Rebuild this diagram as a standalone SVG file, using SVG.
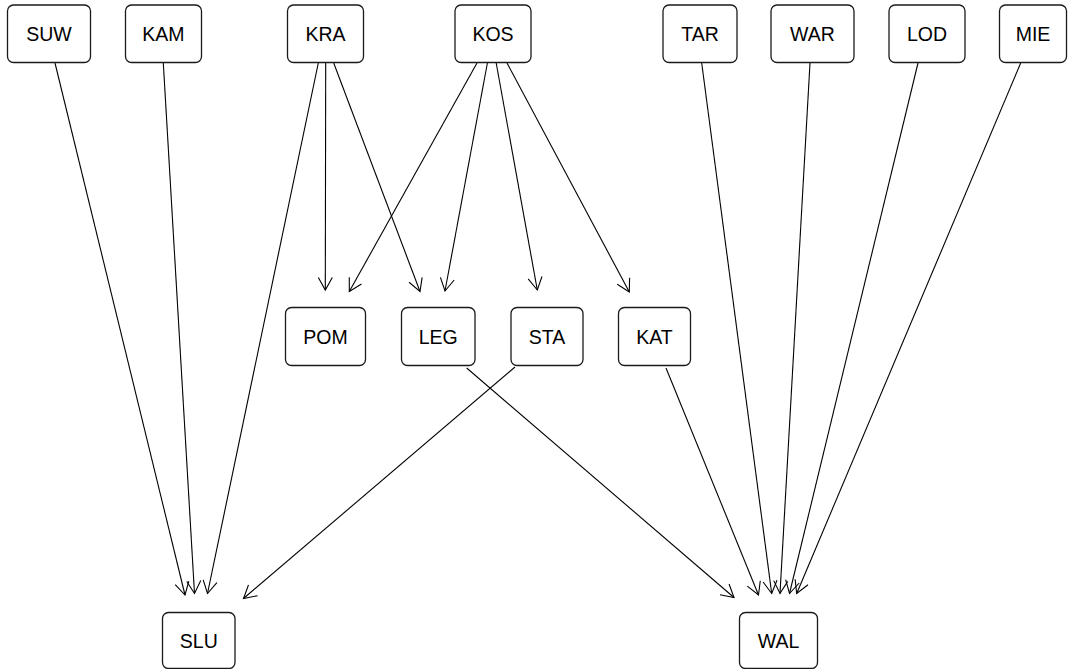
<svg xmlns="http://www.w3.org/2000/svg" width="1068" height="669" viewBox="0 0 1068 669">
  <style>
    .node rect { fill: #ffffff; stroke: #1a1a1a; stroke-width: 1.3; }
    .node text { font-family: "Liberation Sans", Arial, Helvetica, sans-serif; font-size: 19.5px; fill: #000000; text-anchor: middle; }
    #edges line { stroke: #000000; stroke-width: 1.1; fill: none; marker-end: url(#arrow); }
  </style>
  <defs>
    <!-- open V arrowhead -->
    <marker id="arrow" markerUnits="userSpaceOnUse" viewBox="-15 -9 17 18" refX="0" refY="0" markerWidth="17" markerHeight="18" orient="auto" overflow="visible">
      <path d="M-12.5,-7 L0,0 L-12.5,7" fill="none" stroke="#000000" stroke-width="1.1"/>
    </marker>
  </defs>

  <rect width="1068" height="669" fill="#ffffff"/>

  <g id="edges">
    <line x1="55" y1="63" x2="185" y2="595"/>
    <line x1="163.3" y1="63" x2="194.5" y2="593.5"/>
    <line x1="318.3" y1="63" x2="207.5" y2="593.5"/>
    <line x1="325.7" y1="63" x2="325.3" y2="290"/>
    <line x1="333.7" y1="63" x2="420" y2="291.5"/>
    <line x1="477" y1="63" x2="349.3" y2="291.5"/>
    <line x1="487.4" y1="63" x2="445" y2="291"/>
    <line x1="496.2" y1="63" x2="537.3" y2="290"/>
    <line x1="507" y1="63" x2="629.3" y2="292"/>
    <line x1="701.7" y1="63" x2="771.7" y2="593.5"/>
    <line x1="810" y1="63" x2="780" y2="593.5"/>
    <line x1="918" y1="63" x2="789.5" y2="593.5"/>
    <line x1="1020.7" y1="63" x2="796.7" y2="593.5"/>
    <line x1="466.7" y1="368" x2="734" y2="597.5"/>
    <line x1="515" y1="367" x2="243.5" y2="598.5"/>
    <line x1="666" y1="368" x2="758.5" y2="595"/>
  </g>

  <!-- top row -->
  <g id="SUW" class="node"><rect x="7.5" y="5" width="83" height="57.5" rx="6"/><text x="49" y="41">SUW</text></g>
  <g id="KAM" class="node"><rect x="125.5" y="5" width="76" height="57.5" rx="6"/><text x="163.5" y="41">KAM</text></g>
  <g id="KRA" class="node"><rect x="287.5" y="5" width="76" height="57.5" rx="6"/><text x="325.5" y="41">KRA</text></g>
  <g id="KOS" class="node"><rect x="455" y="5" width="76" height="57.5" rx="6"/><text x="493" y="41">KOS</text></g>
  <g id="TAR" class="node"><rect x="663" y="5" width="74" height="57.5" rx="6"/><text x="700" y="41">TAR</text></g>
  <g id="WAR" class="node"><rect x="771" y="5" width="83" height="57.5" rx="6"/><text x="812.5" y="41">WAR</text></g>
  <g id="LOD" class="node"><rect x="889" y="5" width="76" height="57.5" rx="6"/><text x="927" y="41">LOD</text></g>
  <g id="MIE" class="node"><rect x="999.5" y="5" width="67" height="57.5" rx="6"/><text x="1033" y="41">MIE</text></g>

  <!-- middle row -->
  <g id="POM" class="node"><rect x="285.5" y="307.5" width="80" height="58" rx="6"/><text x="325.5" y="344">POM</text></g>
  <g id="LEG" class="node"><rect x="401.5" y="307.5" width="73.5" height="58" rx="6"/><text x="438.25" y="344">LEG</text></g>
  <g id="STA" class="node"><rect x="511" y="307.5" width="72" height="58" rx="6"/><text x="547" y="344">STA</text></g>
  <g id="KAT" class="node"><rect x="618.5" y="307.5" width="72" height="58" rx="6"/><text x="654.5" y="344">KAT</text></g>

  <!-- bottom row -->
  <g id="SLU" class="node"><rect x="162.5" y="612.5" width="72.5" height="56" rx="6"/><text x="198.75" y="648">SLU</text></g>
  <g id="WAL" class="node"><rect x="739.5" y="612.5" width="78" height="56" rx="6"/><text x="778.5" y="648">WAL</text></g>
</svg>
